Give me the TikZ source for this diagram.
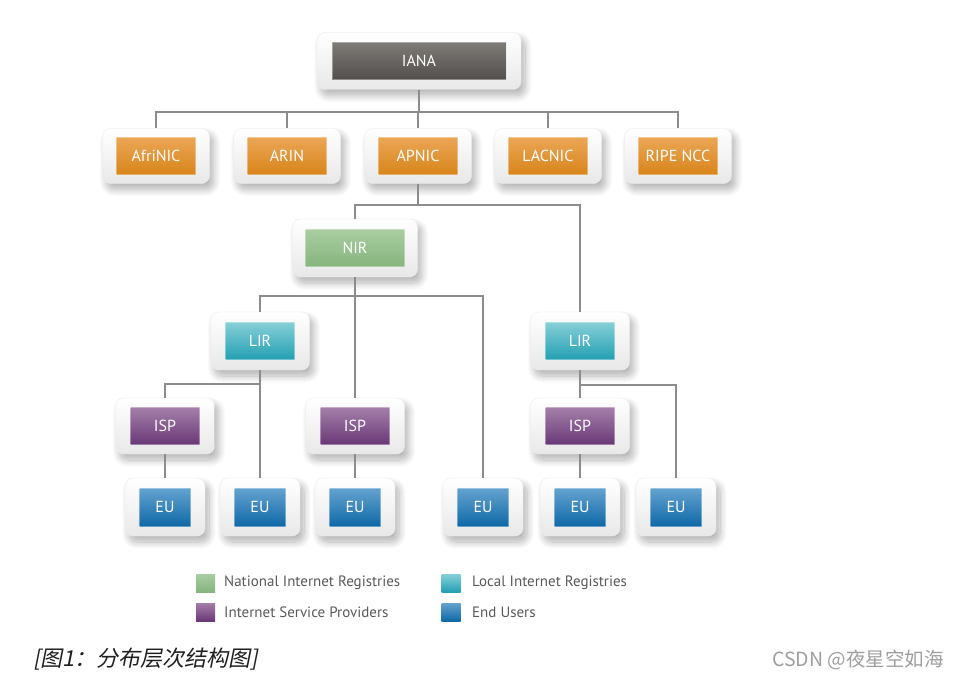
\documentclass[tikz,border=0pt]{standalone}
\usepackage{fontspec}
\setmainfont{PT Sans}
\newfontfamily\cjk{Noto Sans CJK SC}
\newfontfamily\cjkit[FakeSlant=0.2]{Noto Sans CJK SC}
\usetikzlibrary{shadows.blur}
\definecolor{linegray}{HTML}{8C8C8C}
\definecolor{ianatop}{HTML}{7E7A76}
\definecolor{ianabot}{HTML}{534F4C}
\definecolor{rirtop}{HTML}{EBA655}
\definecolor{rirbot}{HTML}{D8851B}
\definecolor{nirtop}{HTML}{AACDA2}
\definecolor{nirbot}{HTML}{85B57C}
\definecolor{lirtop}{HTML}{86CFD8}
\definecolor{lirbot}{HTML}{23A0B2}
\definecolor{isptop}{HTML}{A47FA9}
\definecolor{ispbot}{HTML}{693877}
\definecolor{eutop}{HTML}{64A3CF}
\definecolor{eubot}{HTML}{1069A8}
\tikzstyle{card}=[rounded corners=8pt, draw=black!8, top color=white, bottom color=black!9, inner sep=0pt,
  blur shadow={shadow xshift=4pt, shadow yshift=-6pt, shadow blur radius=7pt, shadow blur steps=10, shadow opacity=30}]
\tikzstyle{tile}=[inner sep=0pt, minimum height=37pt, text=white, draw=white, draw opacity=0.35, line width=0.8pt,
  font=\fontsize{16}{16}\selectfont]
\tikzstyle{link}=[draw=linegray, line width=1.7pt]
\tikzstyle{ianabox}=[tile, top color=ianatop, bottom color=ianabot, minimum width=174pt]
\tikzstyle{rirbox}=[tile, top color=rirtop, bottom color=rirbot, minimum width=79pt]
\tikzstyle{nirbox}=[tile, top color=nirtop, bottom color=nirbot, minimum width=99pt]
\tikzstyle{lirbox}=[tile, top color=lirtop, bottom color=lirbot, minimum width=69pt]
\tikzstyle{ispbox}=[tile, top color=isptop, bottom color=ispbot, minimum width=69pt]
\tikzstyle{eubox}=[tile, top color=eutop, bottom color=eubot, minimum width=51pt, minimum height=38pt]
\tikzstyle{key}=[inner sep=0pt, minimum width=19pt, minimum height=18pt]
\tikzstyle{keytext}=[anchor=west, inner sep=0pt, text=black!65, font=\fontsize{15}{15}\selectfont]

\begin{document}
\begin{tikzpicture}[x=1pt, y=-1pt]
    \useasboundingbox (0,0) rectangle (960,679);
    % registries
    \node[card, minimum width=204pt, minimum height=57pt] (IANA) at (419, 61) {};
    \node[ianabox] (IANAt) at (IANA.center) {IANA};
    \node[card, minimum width=107pt, minimum height=55pt] (AfriNIC) at (156, 156) {};
    \node[rirbox] (AfriNICt) at (AfriNIC.center) {AfriNIC};
    \node[card, minimum width=107pt, minimum height=55pt] (ARIN) at (287, 156) {};
    \node[rirbox] (ARINt) at (ARIN.center) {ARIN};
    \node[card, minimum width=107pt, minimum height=55pt] (APNIC) at (418, 156) {};
    \node[rirbox] (APNICt) at (APNIC.center) {APNIC};
    \node[card, minimum width=107pt, minimum height=55pt] (LACNIC) at (548, 156) {};
    \node[rirbox] (LACNICt) at (LACNIC.center) {LACNIC};
    \node[card, minimum width=107pt, minimum height=55pt] (RIPE) at (678, 156) {};
    \node[rirbox] (RIPEt) at (RIPE.center) {RIPE NCC};
    \node[card, minimum width=125pt, minimum height=58pt] (NIR) at (355, 248) {};
    \node[nirbox] (NIRt) at (NIR.center) {NIR};
    \node[card, minimum width=99pt, minimum height=58pt] (LIR1) at (260, 341) {};
    \node[lirbox] (LIR1t) at (LIR1.center) {LIR};
    \node[card, minimum width=99pt, minimum height=58pt] (LIR2) at (580, 341) {};
    \node[lirbox] (LIR2t) at (LIR2.center) {LIR};
    % providers
    \node[card, minimum width=99pt, minimum height=56pt] (ISP1) at (165, 426) {};
    \node[ispbox] (ISP1t) at (ISP1.center) {ISP};
    \node[card, minimum width=99pt, minimum height=56pt] (ISP2) at (355, 426) {};
    \node[ispbox] (ISP2t) at (ISP2.center) {ISP};
    \node[card, minimum width=99pt, minimum height=56pt] (ISP3) at (580, 426) {};
    \node[ispbox] (ISP3t) at (ISP3.center) {ISP};
    % end users
    \node[card, minimum width=80pt, minimum height=58pt] (EU1) at (165, 507) {};
    \node[eubox] (EU1t) at (EU1.center) {EU};
    \node[card, minimum width=80pt, minimum height=58pt] (EU2) at (260, 507) {};
    \node[eubox] (EU2t) at (EU2.center) {EU};
    \node[card, minimum width=80pt, minimum height=58pt] (EU3) at (355, 507) {};
    \node[eubox] (EU3t) at (EU3.center) {EU};
    \node[card, minimum width=80pt, minimum height=58pt] (EU4) at (483, 507) {};
    \node[eubox] (EU4t) at (EU4.center) {EU};
    \node[card, minimum width=80pt, minimum height=58pt] (EU5) at (580, 507) {};
    \node[eubox] (EU5t) at (EU5.center) {EU};
    \node[card, minimum width=80pt, minimum height=58pt] (EU6) at (676, 507) {};
    \node[eubox] (EU6t) at (EU6.center) {EU};
    % links
    \draw[link] (IANA.south) -- +(0, 22) -| (AfriNIC.north);
    \draw[link] (IANA.south) -- +(0, 22) -| (ARIN.north);
    \draw[link] (IANA.south) -- +(0, 22) -| (APNIC.north);
    \draw[link] (IANA.south) -- +(0, 22) -| (LACNIC.north);
    \draw[link] (IANA.south) -- +(0, 22) -| (RIPE.north);
    \draw[link] (APNIC.south) -- +(0, 21) -| (NIR.north);
    \draw[link] (APNIC.south) -- +(0, 21) -| (LIR2.north);
    \draw[link] (NIR.south) -- +(0, 19) -| (LIR1.north);
    \draw[link] (NIR.south) -- (ISP2.north);
    \draw[link] (NIR.south) -- +(0, 19) -| (EU4.north);
    \draw[link] (LIR1.south) -- +(0, 14) -| (ISP1.north);
    \draw[link] (LIR1.south) -- (EU2.north);
    \draw[link] (LIR2.south) -- (ISP3.north);
    \draw[link] (LIR2.south) -- +(0, 15) -| (EU6.north);
    \draw[link] (ISP1.south) -- (EU1.north);
    \draw[link] (ISP2.south) -- (EU3.north);
    \draw[link] (ISP3.south) -- (EU5.north);
    % legend
    \node[key, top color=nirtop, bottom color=nirbot] (kNIR) at (205.5, 583) {};
    \node[keytext] (tNIR) at (224, 583) {National Internet Registries};
    \node[key, top color=isptop, bottom color=ispbot] (kISP) at (205.5, 612) {};
    \node[keytext] (tISP) at (224, 612) {Internet Service Providers};
    \node[key, top color=lirtop, bottom color=lirbot] (kLIR) at (451, 583) {};
    \node[keytext] (tLIR) at (472, 583) {Local Internet Registries};
    \node[key, top color=eutop, bottom color=eubot] (kEU) at (451, 612) {};
    \node[keytext] (tEU) at (472, 612) {End Users};
    % caption
    \node[anchor=west, inner sep=0pt, text=black!88, font=\cjkit\fontsize{22}{22}\selectfont] (cap) at (33, 659) {[图1：分布层次结构图]};
    \node[anchor=east, inner sep=0pt, text=black!38, font=\cjk\fontsize{19.5}{19.5}\selectfont] (mark) at (944, 660) {CSDN @夜星空如海};
\end{tikzpicture}
\end{document}
